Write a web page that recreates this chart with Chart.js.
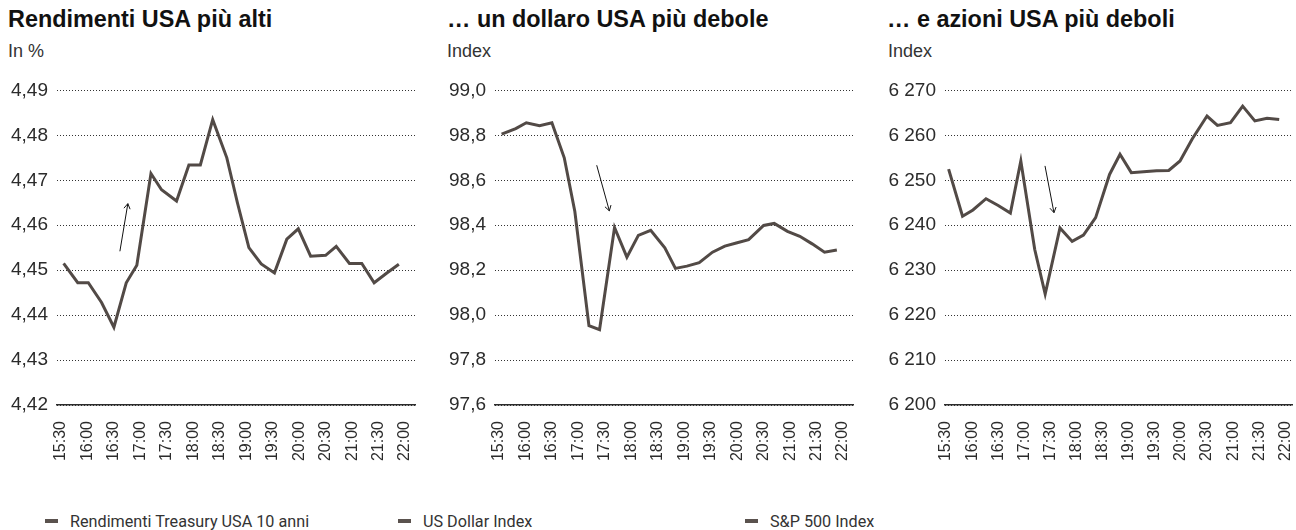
<!DOCTYPE html>
<html lang="it">
<head>
<meta charset="utf-8">
<title>Rendimenti, dollaro e azioni USA</title>
<script src="https://cdn.jsdelivr.net/npm/chart.js@4.4.1/dist/chart.umd.min.js"></script>
<style>
  html, body { margin: 0; padding: 0; background: #fff; }
  body {
    width: 1296px; height: 530px; position: relative; overflow: hidden;
    font-family: "Liberation Sans", Arial, sans-serif; color: #222;
  }
  .titolo { position: absolute; top: 6px; font-size: 23.4px; font-weight: bold; color: #111; white-space: nowrap; }
  .unita { position: absolute; top: 41px; font-size: 18px; color: #333; white-space: nowrap; }
  canvas { position: absolute; top: 70px; }
  .leg-segno { position: absolute; top: 519px; width: 13px; height: 4px; background: #5a524e; }
  .leg-testo { position: absolute; top: 512px; font-family: Roboto, "Liberation Sans", sans-serif; font-size: 16.2px; color: #333; white-space: nowrap; }
</style>
</head>
<body>

<div class="titolo" style="left:8px">Rendimenti USA più alti</div>
<div class="unita" style="left:8px">In %</div>
<canvas id="graficoRendimenti" width="430" height="400" style="left:0px"></canvas>

<div class="titolo" style="left:447px">… un dollaro USA più debole</div>
<div class="unita" style="left:447px">Index</div>
<canvas id="graficoDollaro" width="430" height="400" style="left:438px"></canvas>

<div class="titolo" style="left:887px">… e azioni USA più deboli</div>
<div class="unita" style="left:888px">Index</div>
<canvas id="graficoAzioni" width="416" height="400" style="left:880px"></canvas>

<div id="legende"></div>

<script>
// etichette asse x (ogni 30 minuti)
const orari = ["15:30", "16:00", "16:30", "17:00", "17:30", "18:00", "18:30",
  "19:00", "19:30", "20:00", "20:30", "21:00", "21:30", "22:00"];

// orari delle osservazioni
const orariOsservazioni = ["15:33", "15:49", "16:01", "16:16", "16:30", "16:44", "16:56",
  "17:12", "17:24", "17:41", "17:55", "18:08", "18:22", "18:38",
  "18:50", "19:03", "19:17", "19:32", "19:46", "19:59", "20:13",
  "20:30", "20:42", "20:57", "21:11", "21:25", "21:39", "21:53"];

const rendimentiTreasury = [4.4515, 4.4472, 4.4472, 4.4428, 4.4373, 4.4472, 4.4511,
  4.4715, 4.4679, 4.4654, 4.4734, 4.4734, 4.4835, 4.4750,
  4.4650, 4.4550, 4.4514, 4.4494, 4.4569, 4.4592, 4.4531,
  4.4533, 4.4553, 4.4515, 4.4515, 4.4472, 4.4493, 4.4513];

const dollarIndex = [98.805, 98.830, 98.856, 98.843, 98.856, 98.700, 98.461,
  97.953, 97.935, 98.390, 98.258, 98.355, 98.377, 98.299,
  98.208, 98.218, 98.233, 98.280, 98.307, 98.321, 98.336,
  98.399, 98.408, 98.373, 98.351, 98.317, 98.280, 98.290];

const sp500 = [6252.5, 6242.0, 6243.4, 6245.9, 6244.4, 6242.7, 6254.3,
  6234.6, 6224.7, 6239.4, 6236.4, 6237.8, 6241.7, 6251.3,
  6255.8, 6251.7, 6251.9, 6252.1, 6252.2, 6254.3, 6259.2,
  6264.3, 6262.2, 6262.8, 6266.5, 6263.2, 6263.8, 6263.5];

const nomiSerie = ["Rendimenti Treasury USA 10 anni", "US Dollar Index", "S&P 500 Index"];
const posizioniLegenda = [45, 398, 745];

const COLORE_LINEA = "#524a46";
const COLORE_TESTO = "#2b2b2b";

function inMinuti(orario) {
  const [h, m] = orario.split(":").map(Number);
  return (h - 15) * 60 + m - 30;
}

const tickMinuti = orari.map(inMinuti);
const minuti = orariOsservazioni.map(inMinuti);

// freccia sottile disegnata in coordinate dei dati
const pluginFreccia = {
  id: "freccia",
  afterDatasetsDraw(chart, args, opts) {
    const { x, y } = chart.scales;
    const ctx = chart.ctx;
    const x0 = x.getPixelForValue(opts.da[0]);
    const y0 = y.getPixelForValue(opts.da[1]);
    const x1 = x.getPixelForValue(opts.a[0]);
    const y1 = y.getPixelForValue(opts.a[1]);
    const ang = Math.atan2(y1 - y0, x1 - x0);

    ctx.save();
    ctx.strokeStyle = "#111";
    ctx.lineWidth = 1;
    ctx.beginPath();
    ctx.moveTo(x0, y0);
    ctx.lineTo(x1, y1);
    ctx.moveTo(x1 - 6 * Math.cos(ang - 0.55), y1 - 6 * Math.sin(ang - 0.55));
    ctx.lineTo(x1, y1);
    ctx.lineTo(x1 - 6 * Math.cos(ang + 0.55), y1 - 6 * Math.sin(ang + 0.55));
    ctx.stroke();
    ctx.restore();
  }
};

function creaGrafico(id, valori, asse, freccia) {
  return new Chart(document.getElementById(id), {
    type: "line",
    data: {
      datasets: [{
        data: valori.map((v, i) => ({ x: minuti[i], y: v })),
        borderColor: COLORE_LINEA,
        borderWidth: 3,
        pointRadius: 0,
        tension: 0
      }]
    },
    options: {
      responsive: false,
      animation: false,
      devicePixelRatio: 1,
      layout: { padding: { top: 18, right: asse.destra, left: 0, bottom: 0 } },
      plugins: {
        legend: { display: false },
        tooltip: { enabled: false },
        freccia: freccia
      },
      scales: {
        x: {
          type: "linear",
          min: asse.xMin,
          max: asse.xMax,
          afterBuildTicks: s => { s.ticks = tickMinuti.map(v => ({ value: v })); },
          afterFit: s => {
            s.height = 65;
            s.paddingLeft = 0;
            s.paddingRight = 0;
          },
          grid: { display: false },
          border: { display: true, color: COLORE_TESTO, width: 1.5 },
          ticks: {
            autoSkip: false,
            minRotation: 90,
            maxRotation: 90,
            padding: 8,
            color: COLORE_TESTO,
            font: { family: "'Liberation Sans', Arial, sans-serif", size: 16 },
            callback: (v, i) => orari[i]
          }
        },
        y: {
          min: asse.yMin,
          max: asse.yMax,
          afterFit: s => { s.width = asse.larghezzaY; },
          grid: { color: "#333", lineWidth: 1, drawTicks: false },
          border: { display: false, dash: [1, 2] },
          ticks: {
            stepSize: asse.passo,
            padding: 9,
            color: COLORE_TESTO,
            font: { family: "'Liberation Sans', Arial, sans-serif", size: 19 },
            callback: asse.formato
          }
        }
      }
    },
    plugins: [pluginFreccia]
  });
}

creaGrafico("graficoRendimenti", rendimentiTreasury, {
  xMin: -4.5, xMax: 401.3, destra: 15, larghezzaY: 57,
  yMin: 4.42, yMax: 4.49, passo: 0.01,
  formato: v => v.toFixed(2).replace(".", ",")
}, { da: [66.8, 4.4542], a: [75.8, 4.4648] });

creaGrafico("graficoDollaro", dollarIndex, {
  xMin: -4.5, xMax: 401.3, destra: 15, larghezzaY: 57,
  yMin: 97.6, yMax: 99.0, passo: 0.2,
  formato: v => v.toFixed(1).replace(".", ",")
}, { da: [110.8, 98.667], a: [125.1, 98.464] });

creaGrafico("graficoAzioni", sp500, {
  xMin: -1.15, xMax: 397.7, destra: 4, larghezzaY: 65,
  yMin: 6200, yMax: 6270, passo: 10,
  formato: v => Math.round(v).toString().replace(/\B(?=(\d{3})+(?!\d))/g, " ")
}, { da: [113.8, 6253.2], a: [124.1, 6242.8] });

// legende
const legende = document.getElementById("legende");
nomiSerie.forEach((nome, i) => {
  const segno = document.createElement("div");
  segno.className = "leg-segno";
  segno.style.left = posizioniLegenda[i] + "px";
  legende.appendChild(segno);

  const testo = document.createElement("div");
  testo.className = "leg-testo";
  testo.style.left = (posizioniLegenda[i] + 25) + "px";
  testo.textContent = nome;
  legende.appendChild(testo);
});
</script>
</body>
</html>
